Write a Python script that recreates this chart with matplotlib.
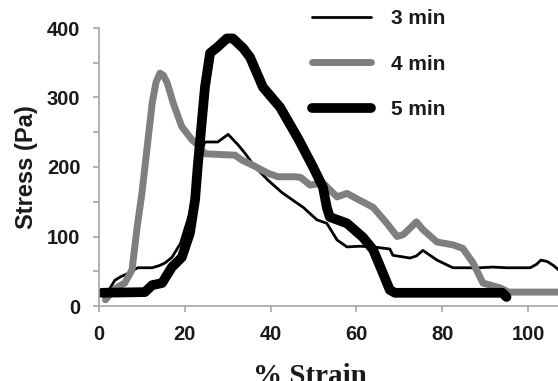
import matplotlib
matplotlib.use("Agg")
import matplotlib.pyplot as plt
from matplotlib.ticker import MultipleLocator

# 3 min curve
strain_3 = [1.5, 2.5, 3.7, 5, 6.8, 9, 12.4, 14, 15.4, 17, 19, 21, 22.5, 24, 24.7,
            27.7, 30.1, 32.4, 34, 36.4, 39.4, 42.7, 45.7, 47.6, 50.8, 53.1, 55.5,
            57.8, 60.8, 63.9, 67.8, 68.5, 72.5, 74, 75.5, 78.8, 82.5, 88.8, 91.8,
            95, 100.5, 102, 103, 104.5, 106, 107.5]
stress_3 = [20, 25, 37, 42, 47, 55, 55, 58, 62, 70, 90, 130, 175, 225, 236,
            236, 247, 232, 220, 200, 181, 163, 150, 142, 124, 119, 95,
            85, 86, 85, 82, 73, 69, 72, 80, 66, 55, 55, 56,
            55, 55, 60, 66, 64, 58, 50]

# 4 min curve
strain_4 = [1.5, 3, 4.5, 6, 7.7, 8.9, 10, 10.7, 12.4, 13.3, 14.2, 15, 15.9, 17.3,
            19.3, 21.7, 23, 24.7, 31.7, 33.3, 35.7, 39.4, 41.7, 45.7, 47, 49.2,
            52.2, 55.5, 57.8, 60.8, 63.9, 67.1, 69.5, 71, 74, 75.5, 78.8, 82.5,
            84.8, 87.2, 89.5, 93.5, 95.5, 107.5]
stress_4 = [9, 20, 28, 33, 52, 114, 162, 200, 292, 322, 335, 332, 321, 292,
            258, 239, 232, 219, 217, 210, 203, 191, 186, 186, 185, 174,
            177, 157, 162, 152, 142, 119, 100, 103, 121, 110, 92, 88,
            83, 62, 33, 26, 20, 20]

# 5 min curve
strain_5 = [0.7, 10.7, 12.4, 14.7, 17, 19.3, 21.2, 22.4, 23, 24.7, 25.9, 27.7,
            29.8, 31.2, 33.6, 35.2, 38.2, 42.2, 46.5, 49.9, 52.2, 53.1, 53.8,
            57.8, 61.5, 63.9, 66.2, 67.8, 69, 94, 95]
stress_5 = [19, 20, 30, 33, 56, 70, 105, 153, 200, 315, 364, 373,
            385, 385, 371, 358, 315, 286, 240, 200, 171, 142, 128,
            119, 99, 81, 47, 23, 19, 19, 13]

fig = plt.figure(figsize=(5.58, 3.81), dpi=100)
ax = fig.add_axes([99 / 558, 1 - 306 / 381, 459 / 558, 278 / 381])

kw = dict(solid_capstyle="round", solid_joinstyle="round")
ax.plot(strain_3, stress_3, color="black", lw=2.0, label="3 min", **kw)
ax.plot(strain_4, stress_4, color="#7f7f7f", lw=5.0, label="4 min", **kw)
ax.plot(strain_5, stress_5, color="black", lw=7.0, label="5 min", **kw)

ax.set_xlim(0, 107)
ax.set_ylim(0, 400)
ax.xaxis.set_major_locator(MultipleLocator(20))
ax.yaxis.set_major_locator(MultipleLocator(100))
ax.yaxis.set_minor_locator(MultipleLocator(50))

for s in ["top", "right"]:
    ax.spines[s].set_visible(False)
for s in ["left", "bottom"]:
    ax.spines[s].set_color("#a6a6a6")
    ax.spines[s].set_linewidth(1.2)

ax.tick_params(which="both", direction="out", length=4.5, width=1.2,
               color="#a6a6a6", pad=9, labelsize=14.5, labelcolor="#1a1a1a")
for lab in ax.get_xticklabels() + ax.get_yticklabels():
    lab.set_fontweight("bold")
    lab.set_fontfamily("Liberation Sans")

ax.set_ylabel("Stress (Pa)", fontsize=17, fontweight="bold",
              fontfamily="Liberation Sans", color="#1a1a1a")
ax.yaxis.set_label_coords(-0.132, 0.5)
ax.set_xlabel("% Strain", fontsize=21, fontweight="bold",
              fontfamily="Liberation Serif", color="#1a1a1a")
ax.xaxis.set_label_coords(0.46, -0.205)

leg = ax.legend(loc="upper left", bbox_to_anchor=(312 / 558, 1 - 9 / 381),
                bbox_transform=fig.transFigure, frameon=False,
                borderpad=0, borderaxespad=0, handlelength=2.85,
                handletextpad=0.95, labelspacing=1.28,
                prop={"family": "Liberation Sans", "weight": "bold", "size": 15})
for t in leg.get_texts():
    t.set_color("#1a1a1a")

fig.savefig("out.png", dpi=100)
